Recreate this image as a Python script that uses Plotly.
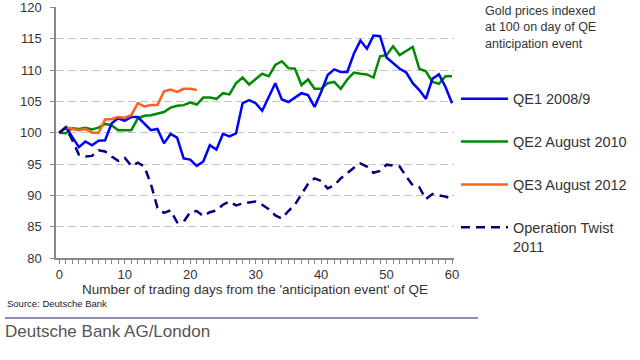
import plotly.graph_objects as go

days = list(range(0, 61))

qe1_2008 = [100, 100.9, 99.3, 97.7, 98.6, 98.0, 98.7, 98.8, 101.5, 102.3,
            101.9, 102.5, 102.5, 101.5, 100.4, 100.6, 98.3, 99.8, 99.2, 95.9,
            95.7, 94.7, 95.4, 98.0, 97.3, 99.8, 99.4, 99.9, 104.7, 105.2,
            104.7, 103.5, 105.7, 107.9, 105.3, 104.9, 105.6, 106.3, 106.0, 104.1,
            106.5, 109.2, 110.1, 109.7, 109.7, 112.6, 114.7, 113.4, 115.5, 115.4,
            112.0, 111.1, 110.2, 109.6, 107.9, 106.8, 105.4, 108.6, 109.3, 107.3,
            104.7]

qe2_2010 = [100, 99.9, 100.7, 100.6, 100.8, 100.5, 100.8, 101.4, 101.2, 100.4,
            100.4, 100.4, 102.3, 102.7, 102.8, 103.0, 103.3, 104.0, 104.3, 104.4,
            104.8, 104.5, 105.6, 105.6, 105.4, 106.3, 106.1, 107.9, 108.8, 107.7,
            108.6, 109.4, 109.0, 110.8, 111.4, 110.3, 110.2, 107.6, 108.5, 107.0,
            107.0, 107.9, 108.1, 107.0, 108.5, 109.6, 109.4, 109.3, 108.8, 112.2,
            112.4, 113.8, 112.4, 113.1, 113.7, 110.2, 109.8, 108.1, 107.8, 109.0,
            109.0]

qe3_days = list(range(0, 22))
qe3_2012 = [100, 100.9, 100.6, 100.4, 100.6, 100.0, 100.0, 102.1, 102.2, 102.5,
            102.4, 102.8, 104.7, 104.2, 104.4, 104.4, 106.6, 106.9, 106.5, 107.0,
            107.0, 106.8]

twist_2011 = [100, 100.8, 98.8, 96.5, 96.2, 96.3, 97.2, 97.0, 96.2, 95.5,
              96.0, 94.7, 95.2, 94.6, 91.8, 88.0, 87.2, 87.6, 85.7, 85.8,
              87.3, 87.5, 86.7, 87.3, 87.6, 88.5, 89.0, 88.4, 88.7, 88.8,
              89.0, 88.5, 87.8, 86.8, 86.3, 87.5, 88.5, 90.2, 91.8, 92.7,
              92.3, 91.1, 91.6, 92.7, 93.6, 94.4, 95.1, 94.6, 93.6, 93.9,
              94.9, 94.7, 94.6, 93.0, 91.6, 91.3, 89.4, 90.2, 90.0, 89.8,
              89.4]

names = ["QE1 2008/9", "QE2 August 2010", "QE3 August 2012", "Operation Twist<br>2011"]
colors = ["#0000FF", "#008A00", "#FF5F1F", "#000080"]
note_text = "Gold prices indexed<br>at 100 on day of QE<br>anticipation event"

FONT = "Liberation Sans, Arial, sans-serif"
TXT = "#333333"

fig = go.Figure()
# draw order: QE2, QE1, QE3, Twist ; legend order via legendrank
fig.add_trace(go.Scatter(x=days, y=qe2_2010, mode="lines", name=names[1],
                         line=dict(color=colors[1], width=2.5), legendrank=2,
                         legendgroup="b"))
fig.add_trace(go.Scatter(x=days, y=qe1_2008, mode="lines", name=names[0],
                         line=dict(color=colors[0], width=2.5), legendrank=1,
                         legendgroup="a"))
fig.add_trace(go.Scatter(x=qe3_days, y=qe3_2012, mode="lines", name=names[2],
                         line=dict(color=colors[2], width=2.5), legendrank=3,
                         legendgroup="c"))
fig.add_trace(go.Scatter(x=days, y=twist_2011, mode="lines", name=names[3],
                         line=dict(color=colors[3], width=2.5, dash="9px,6px"),
                         legendrank=4, legendgroup="d"))

fig.update_layout(
    width=640, height=360,
    margin=dict(l=56, r=186, t=7, b=102),
    paper_bgcolor="white", plot_bgcolor="white",
    font=dict(family=FONT, size=12, color=TXT),
    showlegend=True,
    legend=dict(x=1.005, y=0.698, xanchor="left", yanchor="top",
                font=dict(family=FONT, size=14.5, color=TXT),
                tracegroupgap=21, itemwidth=47, valign="top",
                bgcolor="rgba(0,0,0,0)"),
    xaxis=dict(range=[-0.5, 60.3], tickvals=[0, 10, 20, 30, 40, 50, 60],
               ticks="outside", ticklen=4, tickcolor="#888888", tickwidth=1,
               minor=dict(dtick=1, tick0=0, ticks="outside", ticklen=4,
                          tickcolor="#888888", showgrid=False),
               showline=True, linecolor="#888888", linewidth=1.5,
               showgrid=False, zeroline=False, automargin=False,
               tickfont=dict(family=FONT, size=13, color=TXT),
               title=dict(text="Number of trading days from the 'anticipation event' of QE",
                          font=dict(family=FONT, size=13.5, color=TXT),
                          standoff=3)),
    yaxis=dict(range=[80, 120.06], tickvals=[80, 85, 90, 95, 100, 105, 110, 115, 120],
               ticks="outside", ticklen=4, tickcolor="#888888",
               showline=True, linecolor="#888888", linewidth=1.5,
               showgrid=True, gridcolor="#C4C4C4", gridwidth=1, griddash="8px,4px",
               zeroline=False, ticklabelstandoff=6, automargin=False,
               ticklabeloverflow="allow",
               tickfont=dict(family=FONT, size=13, color=TXT)),
)

fig.add_annotation(xref="paper", yref="paper", x=1.072, y=1.018,
                   xanchor="left", yanchor="top", align="left", showarrow=False,
                   text=note_text, font=dict(family=FONT, size=12.5, color=TXT))
fig.add_annotation(xref="paper", yref="paper", x=-0.128, y=-0.181,
                   xanchor="left", yanchor="middle", showarrow=False,
                   text="Source: Deutsche Bank",
                   font=dict(family=FONT, size=9.5, color="#222222"))
fig.add_annotation(xref="paper", yref="paper", x=-0.133, y=-0.291,
                   xanchor="left", yanchor="middle", showarrow=False,
                   text="Deutsche Bank AG/London",
                   font=dict(family=FONT, size=17, color="#555555"))
fig.add_shape(type="line", xref="paper", yref="paper",
              x0=-0.128, x1=1.060, y0=-0.239, y1=-0.239,
              line=dict(color="#1A1A6E", width=1))

fig.write_html("out.html", config={"displayModeBar": False},
               post_script="document.body.style.margin='0';")
